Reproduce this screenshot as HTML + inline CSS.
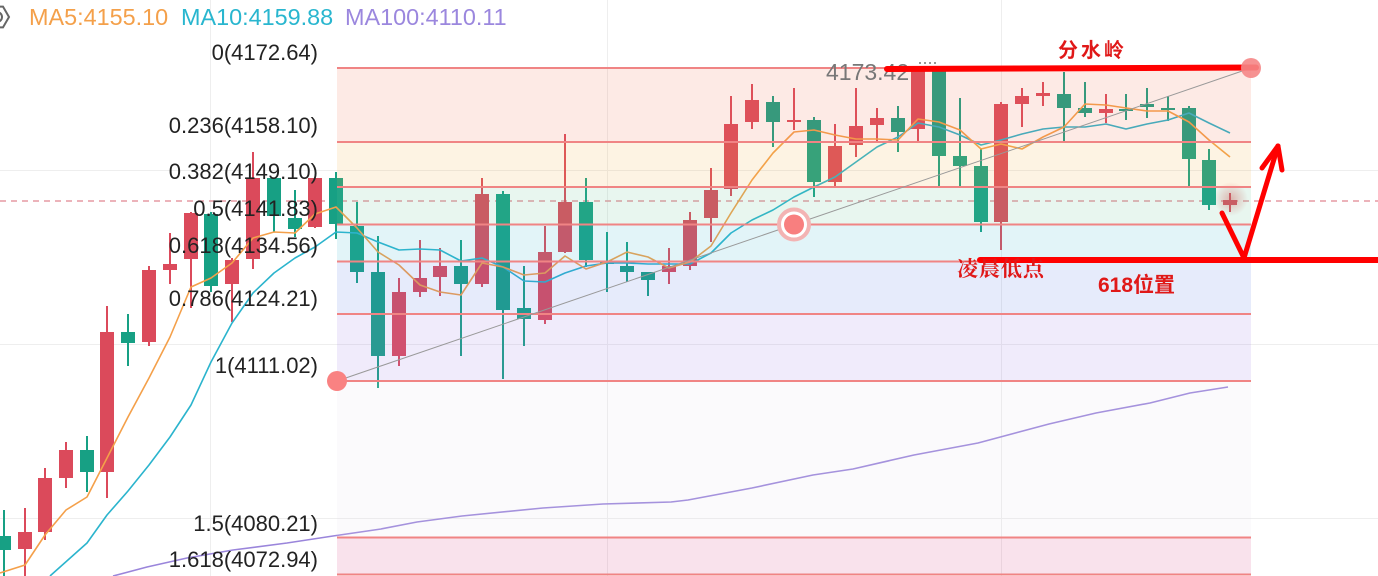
<!DOCTYPE html>
<html>
<head>
<meta charset="utf-8">
<style>
  html,body{margin:0;padding:0;background:#fff;}
  body{width:1378px;height:576px;overflow:hidden;}
  svg{display:block;}
</style>
</head>
<body>
<svg width="1378" height="576" viewBox="0 0 1378 576" xmlns="http://www.w3.org/2000/svg">
  <defs>
    <radialGradient id="glow" cx="50%" cy="50%" r="50%">
      <stop offset="0%" stop-color="#e05a5a" stop-opacity="0.45"/>
      <stop offset="100%" stop-color="#e05a5a" stop-opacity="0"/>
    </radialGradient>
  </defs>
  <rect x="0" y="0" width="1378" height="576" fill="#ffffff"/>

  <!-- grid -->
  <g stroke="#eeeeee" stroke-width="1">
    <line x1="210.5" y1="0" x2="210.5" y2="576"/>
    <line x1="607.5" y1="0" x2="607.5" y2="576"/>
    <line x1="1001.5" y1="0" x2="1001.5" y2="576"/>
    <line x1="0" y1="170.5" x2="1378" y2="170.5"/>
    <line x1="0" y1="344.5" x2="1378" y2="344.5"/>
    <line x1="0" y1="518.5" x2="1378" y2="518.5"/>
  </g>

  <!-- dashed price line -->
  <line x1="0" y1="201" x2="1378" y2="201" stroke="#e69aa4" stroke-width="1.5" stroke-dasharray="6 5"/>

  <!-- glow -->
  <circle cx="1231" cy="199" r="17" fill="url(#glow)"/>

  <!-- red candles -->
  <g fill="#db4a5b">
    <rect x="24" y="508" width="2" height="68"/><rect x="18" y="532" width="14" height="17"/>
    <rect x="44" y="468" width="2" height="72"/><rect x="38" y="478" width="14" height="54"/>
    <rect x="65" y="442" width="2" height="46"/><rect x="59" y="450" width="14" height="28"/>
    <rect x="106" y="306" width="2" height="192"/><rect x="100" y="332" width="14" height="140"/>
    <rect x="148" y="266" width="2" height="80"/><rect x="142" y="270" width="14" height="72"/>
    <rect x="169" y="233" width="2" height="51"/><rect x="163" y="264" width="14" height="6"/>
    <rect x="190" y="212" width="2" height="96"/><rect x="184" y="213" width="14" height="46"/>
    <rect x="231" y="258" width="2" height="64"/><rect x="225" y="260" width="14" height="24"/>
    <rect x="252" y="152" width="2" height="117"/><rect x="246" y="178" width="14" height="81"/>
    <rect x="314" y="178" width="2" height="50"/><rect x="308" y="178" width="14" height="49"/>
    <rect x="398" y="278" width="2" height="88"/><rect x="392" y="292" width="14" height="64"/>
    <rect x="419" y="240" width="2" height="57"/><rect x="413" y="278" width="14" height="14"/>
    <rect x="439" y="248" width="2" height="48"/><rect x="433" y="266" width="14" height="11"/>
    <rect x="481" y="178" width="2" height="109"/><rect x="475" y="194" width="14" height="90"/>
    <rect x="544" y="226" width="2" height="98"/><rect x="538" y="252" width="14" height="68"/>
    <rect x="564" y="134" width="2" height="119"/><rect x="558" y="202" width="14" height="50"/>
    <rect x="668" y="248" width="2" height="36"/><rect x="662" y="266" width="14" height="6"/>
    <rect x="689" y="212" width="2" height="58"/><rect x="683" y="220" width="14" height="46"/>
    <rect x="710" y="168" width="2" height="74"/><rect x="704" y="190" width="14" height="28"/>
    <rect x="730" y="96" width="2" height="100"/><rect x="724" y="124" width="14" height="65"/>
    <rect x="751" y="84" width="2" height="45"/><rect x="745" y="100" width="14" height="22"/>
    <rect x="793" y="88" width="2" height="42"/><rect x="787" y="120" width="14" height="2"/>
    <rect x="834" y="124" width="2" height="62"/><rect x="828" y="146" width="14" height="36"/>
    <rect x="855" y="88" width="2" height="69"/><rect x="849" y="126" width="14" height="19"/>
    <rect x="876" y="108" width="2" height="34"/><rect x="870" y="118" width="14" height="7"/>
    <rect x="917" y="68" width="2" height="74"/><rect x="911" y="68" width="14" height="61"/>
    <rect x="1000" y="102" width="2" height="148"/><rect x="994" y="104" width="14" height="118"/>
    <rect x="1021" y="88" width="2" height="39"/><rect x="1015" y="96" width="14" height="8"/>
    <rect x="1042" y="82" width="2" height="24"/><rect x="1036" y="93" width="14" height="3"/>
    <rect x="1105" y="94" width="2" height="29"/><rect x="1099" y="109" width="14" height="4"/>
    <rect x="1229" y="193" width="2" height="19"/><rect x="1223" y="200" width="14" height="5"/>
  </g>

  <!-- green candles -->
  <g fill="#17a084">
    <rect x="3" y="510" width="2" height="66"/><rect x="-3" y="536" width="14" height="14"/>
    <rect x="86" y="436" width="2" height="56"/><rect x="80" y="450" width="14" height="22"/>
    <rect x="127" y="314" width="2" height="52"/><rect x="121" y="332" width="14" height="11"/>
    <rect x="210" y="212" width="2" height="80"/><rect x="204" y="214" width="14" height="72"/>
    <rect x="273" y="178" width="2" height="54"/><rect x="267" y="178" width="14" height="38"/>
    <rect x="294" y="190" width="2" height="47"/><rect x="288" y="218" width="14" height="11"/>
    <rect x="335" y="172" width="2" height="67"/><rect x="329" y="178" width="14" height="46"/>
    <rect x="356" y="202" width="2" height="81"/><rect x="350" y="226" width="14" height="46"/>
    <rect x="377" y="236" width="2" height="152"/><rect x="371" y="272" width="14" height="84"/>
    <rect x="460" y="240" width="2" height="116"/><rect x="454" y="266" width="14" height="18"/>
    <rect x="502" y="191" width="2" height="188"/><rect x="496" y="194" width="14" height="116"/>
    <rect x="523" y="266" width="2" height="80"/><rect x="517" y="308" width="14" height="11"/>
    <rect x="585" y="178" width="2" height="89"/><rect x="579" y="202" width="14" height="58"/>
    <rect x="606" y="232" width="2" height="60"/><rect x="600" y="262" width="14" height="2"/>
    <rect x="626" y="242" width="2" height="40"/><rect x="620" y="266" width="14" height="6"/>
    <rect x="647" y="272" width="2" height="24"/><rect x="641" y="272" width="14" height="8"/>
    <rect x="772" y="96" width="2" height="51"/><rect x="766" y="102" width="14" height="20"/>
    <rect x="813" y="117" width="2" height="80"/><rect x="807" y="120" width="14" height="62"/>
    <rect x="897" y="106" width="2" height="46"/><rect x="891" y="118" width="14" height="14"/>
    <rect x="938" y="68" width="2" height="119"/><rect x="932" y="68" width="14" height="88"/>
    <rect x="959" y="98" width="2" height="89"/><rect x="953" y="156" width="14" height="10"/>
    <rect x="980" y="148" width="2" height="84"/><rect x="974" y="166" width="14" height="56"/>
    <rect x="1063" y="72" width="2" height="69"/><rect x="1057" y="94" width="14" height="14"/>
    <rect x="1084" y="82" width="2" height="35"/><rect x="1078" y="108" width="14" height="5"/>
    <rect x="1125" y="94" width="2" height="26"/><rect x="1119" y="109" width="14" height="2"/>
    <rect x="1146" y="88" width="2" height="30"/><rect x="1140" y="104" width="14" height="3"/>
    <rect x="1167" y="96" width="2" height="25"/><rect x="1161" y="108" width="14" height="2"/>
    <rect x="1188" y="106" width="2" height="81"/><rect x="1182" y="108" width="14" height="51"/>
    <rect x="1208" y="149" width="2" height="61"/><rect x="1202" y="160" width="14" height="45"/>
  </g>

  <!-- MA lines -->
  <g fill="none" stroke-width="1.6" stroke-linejoin="round">
    <polyline stroke="#9a85db" points="113,576 147,567 187,558 233,550 287,543 333,536 381,529 417,522 462,516 543,508 603,504 671,502 688,500 752,488 813,475 853,469 914,455 978,443 1049,424 1096,413 1150,403 1190,393 1228,387"/>
    <polyline stroke="#2bb4cd" points="50,576 87,543 107,515 128,491 149,465 170,437 191,405 211,362 232,323 253,293 274,273 295,258 315,247 336,232 357,233 378,242 399,250 420,249 440,250 461,261 482,258 503,267 524,281 545,282 565,273 586,266 607,263 627,263 648,264 669,264 690,264 711,253 731,233 752,220 773,210 794,197 814,187 835,177 856,162 877,147 898,137 918,123 939,127 960,135 981,145 1001,140 1022,134 1043,129 1064,127 1085,127 1106,124 1126,129 1147,124 1168,120 1189,113 1209,123 1230,133"/>
    <polyline stroke="#f4a04a" points="0,573 25,565 45,535 66,510 87,497 107,458 128,417 149,378 170,337 191,287 211,278 232,263 253,238 274,232 295,233 315,214 336,207 357,228 378,252 399,265 420,285 440,292 461,295 482,263 503,267 524,275 545,273 565,256 586,269 607,262 627,252 648,257 669,268 690,262 711,246 731,213 752,180 773,153 794,132 814,130 835,135 856,139 877,139 898,140 918,119 939,122 960,130 981,149 1001,144 1022,149 1043,137 1064,127 1085,104 1106,105 1126,108 1147,111 1168,111 1189,122 1209,140 1230,157"/>
  </g>

  <!-- fib bands (semi-transparent overlay) -->
  <g>
    <rect x="337" y="68" width="914" height="74" fill="rgb(241,115,82)" fill-opacity="0.15"/>
    <rect x="337" y="142" width="914" height="45" fill="rgb(241,175,68)" fill-opacity="0.15"/>
    <rect x="337" y="187" width="914" height="37.5" fill="rgb(102,195,148)" fill-opacity="0.15"/>
    <rect x="337" y="224.5" width="914" height="37" fill="rgb(62,182,208)" fill-opacity="0.15"/>
    <rect x="337" y="261.5" width="914" height="52.5" fill="rgb(88,122,228)" fill-opacity="0.15"/>
    <rect x="337" y="314" width="914" height="67" fill="rgb(155,122,228)" fill-opacity="0.15"/>
    <rect x="337" y="381" width="914" height="156.5" fill="rgb(228,222,235)" fill-opacity="0.15"/>
    <rect x="337" y="537.5" width="914" height="37" fill="rgb(215,62,128)" fill-opacity="0.15"/>
  </g>
  <g stroke="#f08484" stroke-width="2">
    <line x1="337" y1="68" x2="1251" y2="68"/>
    <line x1="337" y1="142" x2="1251" y2="142"/>
    <line x1="337" y1="187" x2="1251" y2="187"/>
    <line x1="337" y1="224.5" x2="1251" y2="224.5"/>
    <line x1="337" y1="261.5" x2="1251" y2="261.5"/>
    <line x1="337" y1="314" x2="1251" y2="314"/>
    <line x1="337" y1="381" x2="1251" y2="381"/>
    <line x1="337" y1="537.5" x2="1251" y2="537.5"/>
    <line x1="337" y1="574.5" x2="1251" y2="574.5"/>
  </g>

  <!-- trend line & anchors -->
  <line x1="337" y1="381" x2="1251" y2="68" stroke="#999999" stroke-width="1"/>
  <circle cx="337" cy="381" r="10" fill="#f98282"/>
  <circle cx="794" cy="224.5" r="15" fill="#ffffff" stroke="#f3b3b3" stroke-width="4"/>
  <circle cx="794" cy="224.5" r="10" fill="#f87f7f"/>

  <!-- fib labels -->
  <g font-family="'Liberation Sans', 'Noto Sans CJK SC', sans-serif" font-size="22" fill="#222" text-anchor="end">
    <text x="318" y="60">0(4172.64)</text>
    <text x="318" y="133">0.236(4158.10)</text>
    <text x="318" y="179">0.382(4149.10)</text>
    <text x="318" y="216">0.5(4141.83)</text>
    <text x="318" y="253">0.618(4134.56)</text>
    <text x="318" y="306">0.786(4124.21)</text>
    <text x="318" y="373">1(4111.02)</text>
    <text x="318" y="531">1.5(4080.21)</text>
    <text x="318" y="567">1.618(4072.94)</text>
  </g>

  <!-- price tag -->
  <text x="826" y="80" font-family="'Liberation Sans', sans-serif" font-size="23" fill="#777">4173.42</text>
  <g fill="#777">
    <circle cx="920" cy="63" r="1"/><circle cx="925" cy="63" r="1"/><circle cx="930" cy="63" r="1"/><circle cx="935" cy="63" r="1"/>
  </g>

  <!-- legend -->
  <g font-family="'Liberation Sans', sans-serif" font-size="23.4">
    <text x="29" y="25" fill="#f4a04a">MA5:4155.10</text>
    <text x="181" y="25" fill="#29b6cf">MA10:4159.88</text>
    <text x="345" y="25" fill="#9b87de">MA100:4110.11</text>
  </g>
  <!-- settings icon (partial) -->
  <g fill="none" stroke="#666" stroke-width="2">
    <polygon points="9,17 3,27.4 -9,27.4 -15,17 -9,6.6 3,6.6"/>
    <circle cx="-3" cy="17" r="5"/>
  </g>

  <!-- annotations -->
  <g stroke="#ff0000" stroke-linecap="round" fill="none">
    <line x1="887" y1="69" x2="1256" y2="67.5" stroke-width="6"/>
    <line x1="980" y1="260" x2="1390" y2="260" stroke-width="6"/>
    <polyline points="1222,213 1244,258 1278,146" stroke-width="5" stroke-linejoin="round"/>
    <line x1="1278" y1="146" x2="1262" y2="168" stroke-width="5"/>
    <line x1="1278" y1="146" x2="1282" y2="170" stroke-width="5"/>
  </g>
  <circle cx="1251" cy="68" r="10" fill="#f58686" fill-opacity="0.9"/>

  <text x="1058" y="57" font-family="'Noto Sans CJK SC', sans-serif" font-weight="bold" font-size="20" letter-spacing="3" fill="#e01818">分水岭</text>
  <text x="957" y="276" font-family="'Noto Serif CJK SC', serif" font-weight="bold" font-size="21" letter-spacing="1" fill="#e01818">凌晨低点</text>
  <text x="1098" y="292" font-family="'Liberation Sans', 'Noto Sans CJK SC', sans-serif" font-weight="bold" font-size="21" fill="#e01818">618位置</text>
</svg>
</body>
</html>
